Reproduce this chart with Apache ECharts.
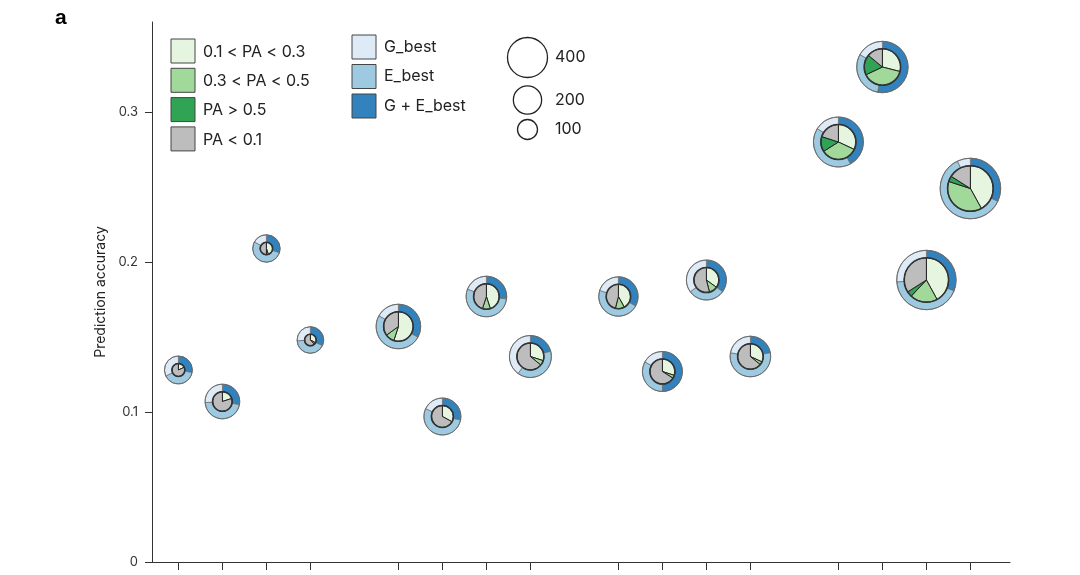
<!DOCTYPE html>
<html>
<head>
<meta charset="utf-8">
<script src="https://cdn.jsdelivr.net/npm/echarts@6/dist/echarts.min.js"></script>
<style>
html,body{margin:0;padding:0;background:#fff;}
#chart{width:1080px;height:575px;}
</style>
</head>
<body>
<div id="chart"></div>
<script>
// ---- data ----
const xSlot = [0,1,2,3,5,6,7,8,10,11,12,13,15,16,17,18];
const accuracy = [0.128,0.107,0.209,0.148,0.157,0.097,0.177,0.137,0.177,0.127,0.188,0.137,0.280,0.330,0.188,0.249];
const traitCount = [195,300,188,177,497,342,412,441,388,400,400,412,625,660,882,918];
// outer ring shares (clockwise from 12 o'clock: G+E_best, E_best, G_best)
const geBest = [0.28,0.28,0.30,0.32,0.33,0.28,0.27,0.21,0.33,0.50,0.35,0.22,0.42,0.53,0.31,0.32];
const eBest  = [0.40,0.46,0.53,0.42,0.50,0.54,0.54,0.39,0.47,0.33,0.30,0.56,0.42,0.30,0.43,0.61];
const gBest  = [0.32,0.26,0.17,0.26,0.17,0.18,0.19,0.40,0.20,0.17,0.35,0.22,0.16,0.17,0.26,0.07];
// inner pie shares (clockwise from 12 o'clock)
const pa01to03 = [0.18,0.20,0.45,0.33,0.55,0.33,0.45,0.30,0.42,0.30,0.35,0.32,0.32,0.29,0.42,0.42];
const pa03to05 = [0.00,0.00,0.05,0.05,0.10,0.00,0.10,0.06,0.12,0.04,0.11,0.04,0.34,0.39,0.20,0.38];
const paGt05   = [0.00,0.00,0.00,0.00,0.00,0.00,0.00,0.00,0.00,0.00,0.00,0.00,0.14,0.18,0.04,0.04];
const paLt01   = [0.82,0.80,0.50,0.62,0.35,0.67,0.45,0.64,0.46,0.66,0.54,0.64,0.20,0.14,0.34,0.16];
const yTicks = [0,0.1,0.2,0.3];
const paLabels = ['0.1 < PA < 0.3','0.3 < PA < 0.5','PA > 0.5','PA < 0.1'];
const modelLabels = ['G_best','E_best','G + E_best'];
const sizeLegend = [400,200,100];

// ---- style ----
const paColors = ['#e5f5e0','#a1d99b','#31a354','#bdbdbd'];
const modelColors = ['#deebf7','#9ecae1','#3182bd'];
const ringOrderColors = [modelColors[2], modelColors[1], modelColors[0]];
const FONT = 'Inter, "Liberation Sans", Arial, sans-serif';
const RING = 7.5;
const rScale = n => Math.sqrt(n); // 400 -> r 20

const data = xSlot.map((x,i)=>[x, accuracy[i], traitCount[i],
  geBest[i], eBest[i], gBest[i], pa01to03[i], pa03to05[i], paGt05[i], paLt01[i]]);

function sectors(cx, cy, r0, r, shares, colors, stroke, lw){
  const out = [];
  const tot = shares.reduce((a,b)=>a+b,0);
  let a = -Math.PI/2;
  shares.forEach((s,k)=>{
    if (s <= 0) return;
    const b = a + s/tot*Math.PI*2;
    out.push({type:'sector', shape:{cx, cy, r0, r, startAngle:a, endAngle:b, clockwise:true},
      style:{fill:colors[k], stroke:stroke, lineWidth:lw}});
    a = b;
  });
  return out;
}

const chart = echarts.init(document.getElementById('chart'));
const option = {
  animation:false,
  backgroundColor:'#fff',
  grid:{left:152, right:70, top:22, bottom:13, containLabel:false},
  xAxis:{type:'value', min:-0.6, max:18.9,
    axisLine:{show:true, onZero:false, lineStyle:{color:'#333', width:1}},
    axisTick:{show:true, inside:false, length:8, lineStyle:{color:'#333'}, customValues:xSlot},
    axisLabel:{show:false}, splitLine:{show:false}},
  yAxis:{type:'value', min:0, max:0.36,
    name:'Prediction accuracy', nameLocation:'middle', nameGap:20,
    nameTextStyle:{fontFamily:FONT, fontSize:14, color:'#222'},
    axisLine:{show:true, onZero:false, lineStyle:{color:'#333', width:1}},
    axisTick:{show:true, length:7, lineStyle:{color:'#333'}, customValues:yTicks},
    axisLabel:{fontFamily:FONT, fontSize:13, color:'#333', margin:14, customValues:yTicks,
      formatter:v=>String(Math.round(v*10)/10)},
    splitLine:{show:false}},
  series:[{
    type:'custom',
    data:data,
    clip:false,
    encode:{x:0, y:1},
    renderItem:function(params, api){
      const p = api.coord([api.value(0), api.value(1)]);
      const r = rScale(api.value(2));
      const r0 = Math.max(r - RING, 3);
      const ring = sectors(p[0], p[1], r0, r, [api.value(3),api.value(4),api.value(5)], ringOrderColors, '#666', 0.7);
      const inner = sectors(p[0], p[1], 0, r0, [api.value(6),api.value(7),api.value(8),api.value(9)], paColors, '#222', 1);
      const children = ring.concat(inner);
      children.push({type:'circle', shape:{cx:p[0], cy:p[1], r:r0}, style:{fill:null, stroke:'#333', lineWidth:1.6}});
      children.push({type:'circle', shape:{cx:p[0], cy:p[1], r:r}, style:{fill:null, stroke:'#666', lineWidth:0.9}});
      return {type:'group', children};
    }
  }],
  graphic:[]
};

// legend graphics
const g = [];
g.push({type:'text', x:55, y:8, style:{text:'a', font:'bold 21px "Liberation Sans", Arial, sans-serif', fill:'#000'}});
paLabels.forEach((t,i)=>{
  const y = 39 + i*29.3;
  g.push({type:'rect', shape:{x:171, y:y, width:24, height:24}, style:{fill:paColors[i], stroke:'#444', lineWidth:1}});
  g.push({type:'text', x:203, y:y+13, style:{text:t, font:'16px '+FONT, fill:'#222', textVerticalAlign:'middle'}});
});
modelLabels.forEach((t,i)=>{
  const y = 35 + i*29.5;
  g.push({type:'rect', shape:{x:352, y:y, width:24, height:24}, style:{fill:modelColors[i], stroke:'#444', lineWidth:1}});
  g.push({type:'text', x:384, y:y+12, style:{text:t, font:'16px '+FONT, fill:'#222', textVerticalAlign:'middle'}});
});
const sizeY = [57.5, 100, 129.5];
sizeLegend.forEach((n,i)=>{
  g.push({type:'circle', shape:{cx:527.5, cy:sizeY[i], r:rScale(n)}, style:{fill:'#fff', stroke:'#222', lineWidth:1.3}});
  g.push({type:'text', x:555, y:sizeY[i], style:{text:String(n), font:'16px '+FONT, fill:'#222', textVerticalAlign:'middle'}});
});
option.graphic = g;
chart.setOption(option);
</script>
</body>
</html>
